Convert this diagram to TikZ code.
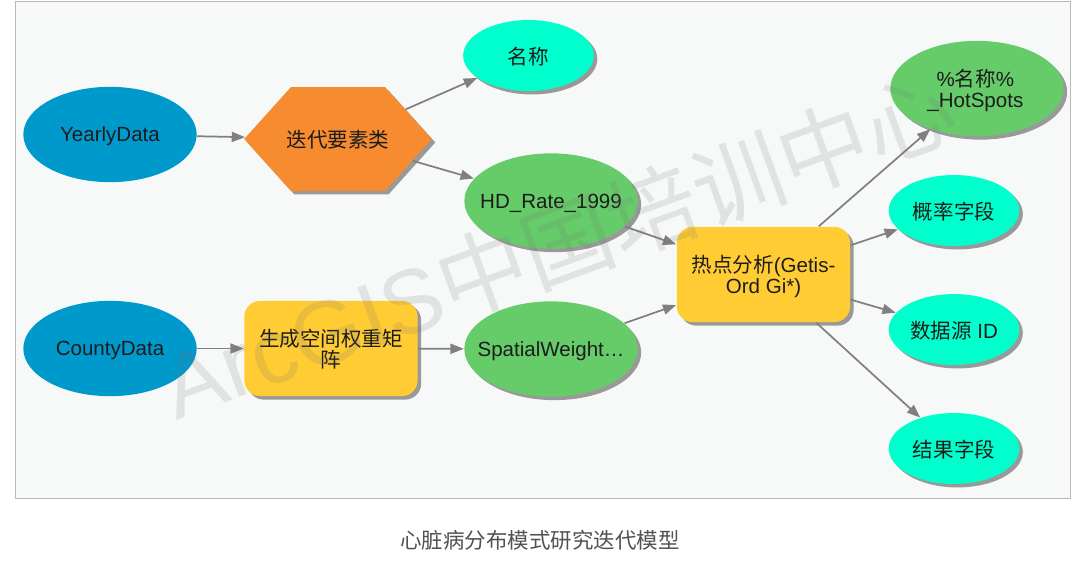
\documentclass[tikz,border=0pt]{standalone}
\usepackage{fontspec}
\setmainfont{Liberation Sans}
\newfontfamily\cjk{Noto Sans CJK SC}
\usetikzlibrary{shapes.geometric,shapes.symbols,shadows,arrows.meta}
\definecolor{frameFill}{HTML}{F7F9F9}
\definecolor{frameLine}{HTML}{B8B8B8}
\definecolor{inBlue}{HTML}{0099CC}
\definecolor{toolOrange}{HTML}{F68B2F}
\definecolor{toolYellow}{HTML}{FFCC33}
\definecolor{dataGreen}{HTML}{66CC6A}
\definecolor{varCyan}{HTML}{00FFCC}
\definecolor{linkGray}{HTML}{808080}
\definecolor{shadowGray}{HTML}{999999}
\definecolor{inkDark}{HTML}{1C1C1C}
\tikzset{
  x=0.75pt,y=-0.75pt,
  base/.style={inner sep=0pt,outer sep=0.4pt,align=center,text=inkDark,text depth=0pt,
    font=\fontsize{15.4}{16.2}\selectfont},
  shade3/.style={drop shadow={shadow xshift=2.6pt,shadow yshift=-2.6pt,fill=shadowGray,opacity=1}},
  bigoval/.style={base,ellipse,minimum width=130pt,minimum height=71.5pt},
  smalloval/.style={base,ellipse,minimum width=98pt,minimum height=53.2pt,fill=varCyan,shade3},
  input/.style={bigoval,fill=inBlue},
  dataout/.style={bigoval,fill=dataGreen,shade3},
  tool/.style={base,rectangle,rounded corners=12pt,minimum width=130pt,minimum height=71.5pt,fill=toolYellow,shade3},
  iter/.style={base,signal,signal to=west and east,signal pointer angle=96,inner xsep=35.25pt,minimum height=78pt,fill=toolOrange,shade3},
  link/.style={draw=linkGray,line width=1.3pt,-{Triangle[length=10pt,width=7.5pt]}}
}
\begin{document}
\begin{tikzpicture}
\useasboundingbox (0,0) rectangle (1080,583);
\fill[white] (0,0) rectangle (1080,583);
\draw[frameLine,fill=frameFill,line width=0.6pt] (15,1) rectangle (1070,498);

\node[input] (yearly) at (110,134.5) {YearlyData};
\node[input] (county) at (110,348.5) {CountyData};
\node[iter] (iterate) at (338,139) {\makebox[0pt][c]{\cjk 迭代要素类}};
\node[tool] (swm) at (331,348.5) {\cjk 生成空间权重矩\\\cjk 阵};
\node[smalloval] (name) at (528.5,55.5) {\cjk 名称};
\node[dataout] (hd) at (551,201) {\makebox[0pt][c]{HD\_Rate\_1999}};
\node[dataout] (spatial) at (551,349) {\makebox[0pt][c]{SpatialWeight…}};
\node[tool] (hot) at (763.5,274.5) {{\cjk 热点分析}(Getis-\\Ord Gi*)};
\node[dataout] (hotspots) at (977,88.5) {\makebox[0pt][c]{\hspace{-2.5pt}\%{\cjk 名称}\%}\\\makebox[0pt][c]{\hspace{-2.5pt}\_HotSpots}};
\node[smalloval] (prob) at (954,210.5) {\cjk 概率字段};
\node[smalloval] (srcid) at (954,329.5) {{\cjk 数据源} ID};
\node[smalloval] (result) at (954,448.5) {\cjk 结果字段};

\draw[link] (yearly) -- (iterate);
\draw[link] (iterate) -- (name);
\draw[link] (iterate) -- (hd);
\draw[link] (county) -- (swm);
\draw[link] (swm) -- (spatial);
\draw[link] (hd) -- (hot);
\draw[link] (spatial) -- (hot);
\draw[link] (hot) -- (hotspots);
\draw[link] (hot) -- (prob);
\draw[link] (hot) -- (srcid);
\draw[link] (hot) -- (result);

\node[inner sep=0pt,rotate=20,text=black!55,text opacity=0.16,font=\fontsize{68}{68}\selectfont] (mark) at (558,245) {ArcGIS{\cjk 中国培训中心}};
\node[inner sep=0pt,text=black!68,font=\cjk\fontsize{16.1}{16.1}\selectfont] (caption) at (540,540) {心脏病分布模式研究迭代模型};
\end{tikzpicture}
\end{document}
